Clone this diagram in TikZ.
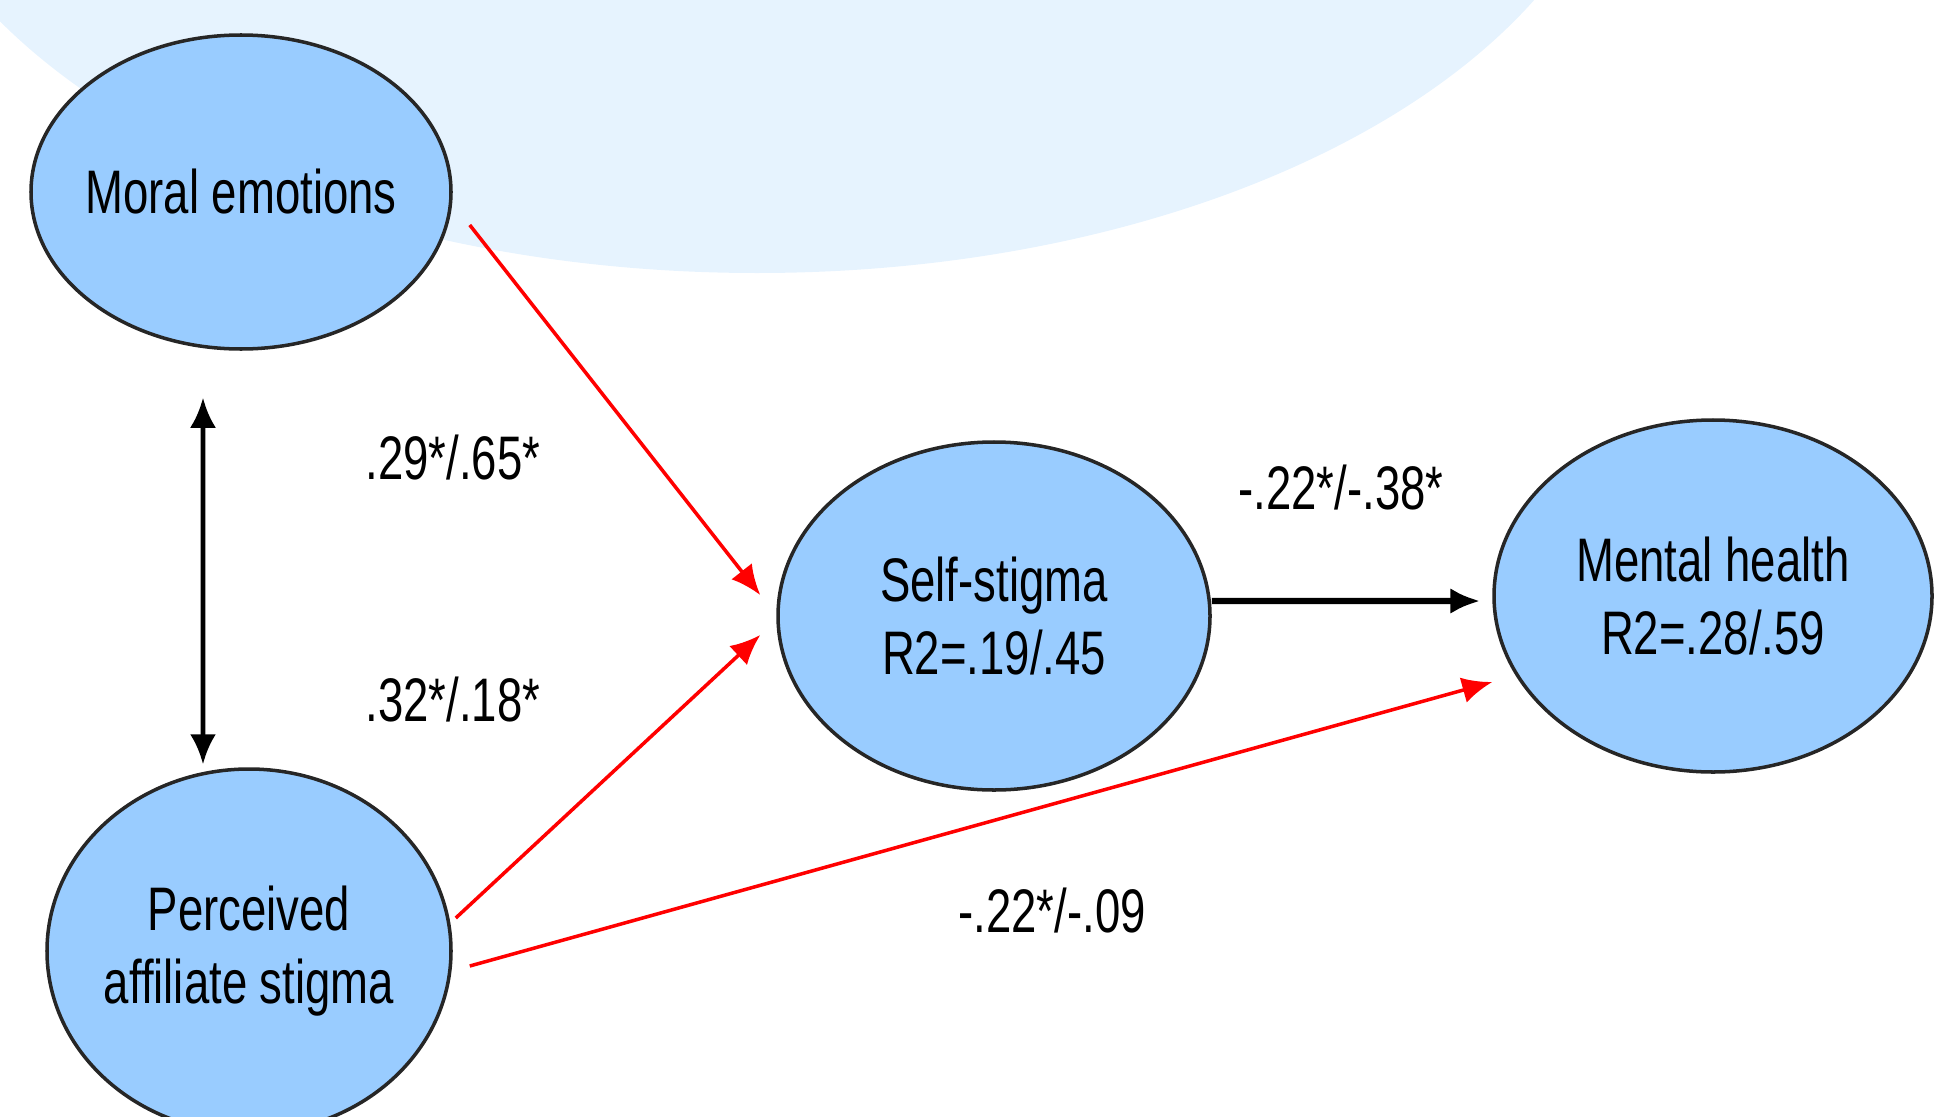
\documentclass[tikz,border=0pt]{standalone}
\usepackage{fontspec}
\setmainfont{Liberation Sans}[FakeStretch=0.74]
\usetikzlibrary{shapes.geometric,arrows.meta}

\definecolor{nodeblue}{HTML}{99CCFF}
\definecolor{blobblue}{HTML}{E6F3FE}
\definecolor{blobgreen}{HTML}{D6F1EC}

\begin{document}
\begin{tikzpicture}[
  latent/.style={ellipse, draw=black!85, line width=1pt, fill=nodeblue, align=center, inner sep=-0.8mm, font=\fontsize{17.5}{21}\selectfont},
  coef/.style={font=\fontsize{17.5}{21}\selectfont},
  redarrow/.style={-{Latex[length=3mm,width=2.6mm]}, red, line width=1pt},
  blkarrow/.style={-{Latex[length=3mm,width=2.6mm]}, line width=1.8pt}
]
\clip (0,0) rectangle (19.52,11.16);
% background shapes
\fill[blobgreen] (0.6,11.6) ellipse (1.2cm and 0.6cm);
\fill[blobblue] (7.57,13.43) ellipse (8.72cm and 5cm);

\node[latent, minimum width=4.2cm, minimum height=3.14cm] (moral) at (2.41,9.24) {Moral emotions};
\node[latent, minimum width=4.04cm, minimum height=3.64cm] (perc) at (2.49,1.65) {Perceived\\affiliate stigma};
\node[latent, minimum width=4.32cm, minimum height=3.48cm] (self) at (9.94,5.0) {Self-stigma\\R2=.19/.45};
\node[latent, minimum width=4.38cm, minimum height=3.52cm] (mental) at (17.13,5.2) {Mental health\\R2=.28/.59};

\node[coef] (c1) at (4.53,6.58) {.29*/.65*};
\node[coef] (c2) at (4.53,4.16) {.32*/.18*};
\node[coef] (c3) at (13.41,6.28) {-.22*/-.38*};
\node[coef] (c4) at (10.52,2.05) {-.22*/-.09};

\draw[{Latex[length=3mm,width=2.6mm]}-{Latex[length=3mm,width=2.6mm]}, line width=1.3pt]
  ([xshift=-3.8mm,yshift=-4.7mm]moral.south) -- ([xshift=-4.6mm,yshift=0.3mm]perc.north);
\draw[redarrow] ([xshift=1.7mm,yshift=-3.3mm]moral.east) -- ([xshift=-1.6mm,yshift=2.1mm]self.west);
\draw[redarrow] ([xshift=0.3mm,yshift=3.3mm]perc.east) -- ([xshift=-1.6mm,yshift=-1.9mm]self.west);
\draw[redarrow] ([xshift=1.7mm,yshift=-1.5mm]perc.east) -- ([yshift=-8.6mm]mental.west);
\draw[blkarrow] ([yshift=1.5mm]self.east) -- ([xshift=-1.2mm,yshift=-0.5mm]mental.west);
\end{tikzpicture}
\end{document}
